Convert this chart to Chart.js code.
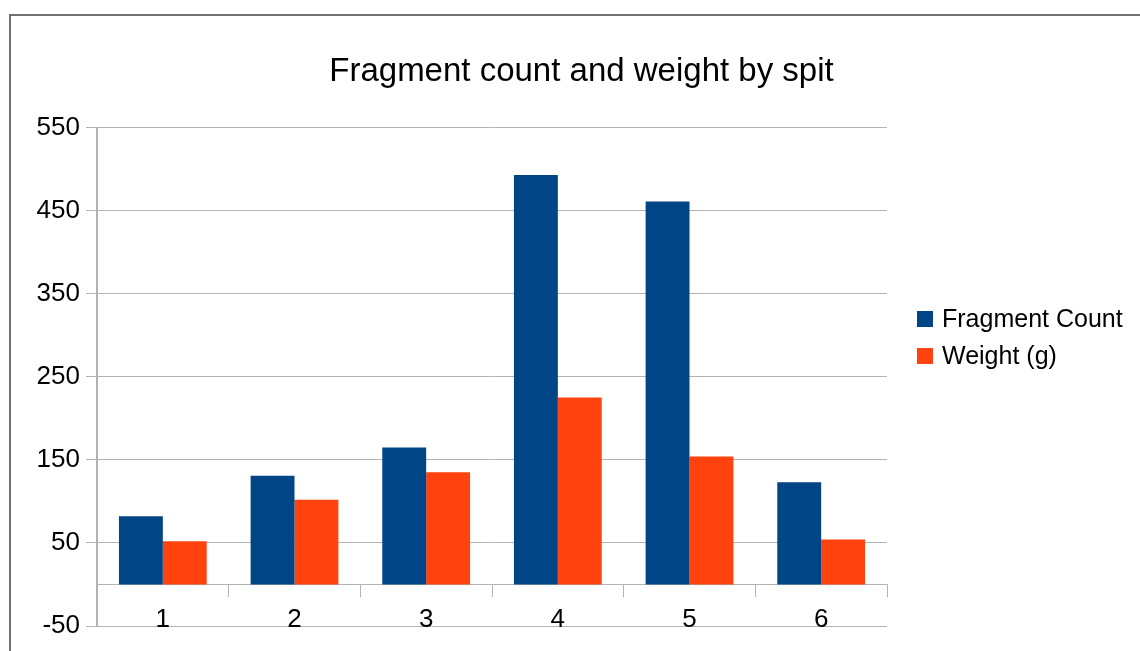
<!DOCTYPE html>
<html lang="en">
<head>
    <meta charset="UTF-8">
    <title>Fragment count and weight by spit</title>
    <script src="https://cdn.jsdelivr.net/npm/chart.js"></script>
    <style>
        html, body {
        margin: 0;
        padding: 0;
        background: #ffffff;
        overflow: hidden;
        width: 1140px;
        height: 651px;
        }

        #frame {
        position: absolute;
        left: 9px;
        top: 14px;
        width: 1200px;
        height: 700px;
        border-left: 2px solid #707070;
        border-top: 2px solid #707070;
        }

        #wrap {
        position: absolute;
        left: 0;
        top: 0;
        width: 1163px;
        height: 651px;
        }

        #legend {
        position: absolute;
        left: 917px;
        top: 300px;
        font-family: "Liberation Sans", Arial, sans-serif;
        font-size: 25px;
        color: #000;
        }

        #legend .row {
        display: flex;
        align-items: center;
        height: 37px;
        }

        #legend .box {
        width: 16px;
        height: 16px;
        margin-right: 9px;
        }
    </style>
</head>
<body>
    <div id="frame"></div>
    <div id="wrap"><canvas id="spitChart"></canvas></div>
    <div id="legend"></div>

    <script>
        const spits = ['1', '2', '3', '4', '5', '6'];
        const fragmentCount = [82, 131, 165, 493, 461, 123];
        const weightG = [52, 102, 135, 225, 154, 54];
        const seriesNames = ['Fragment Count', 'Weight (g)'];
        const seriesColors = ['#004586', '#ff420e'];
        const yTicks = [-50, 50, 150, 250, 350, 450, 550];

        const font = "'Liberation Sans', Arial, sans-serif";
        const gridCol = '#b3b3b3';

        new Chart(document.getElementById('spitChart'), {
            type: 'bar',
            data: {
            labels: spits,
            datasets: [
                {
                label: seriesNames[0],
                data: fragmentCount,
                backgroundColor: seriesColors[0],
                categoryPercentage: 2 / 3,
                barPercentage: 1
                },
                {
                label: seriesNames[1],
                data: weightG,
                backgroundColor: seriesColors[1],
                categoryPercentage: 2 / 3,
                barPercentage: 1
                }
            ]
            },
            options: {
            responsive: true,
            maintainAspectRatio: false,
            animation: false,
            layout: {
                padding: { left: 0, right: 0, top: 0, bottom: 25 }
            },
            plugins: {
                legend: { display: false },
                tooltip: { enabled: false },
                title: {
                display: true,
                text: 'Fragment count and weight by spit',
                color: '#000',
                font: { family: font, size: 33, weight: 'normal' },
                padding: { top: 52, bottom: 36 }
                }
            },
            scales: {
                x: {
                position: { y: 0 },
                grid: {
                    offset: true,
                    tickLength: 12,
                    color: ctx => (ctx.index === 0 || ctx.index === spits.length) ? gridCol : 'rgba(0,0,0,0)',
                    tickColor: gridCol
                },
                border: { display: true, color: gridCol },
                ticks: {
                    color: '#000',
                    padding: 8,
                    font: { family: font, size: 26 }
                }
                },
                y: {
                min: yTicks[0],
                max: yTicks[yTicks.length - 1],
                afterBuildTicks: s => { s.ticks = yTicks.map(v => ({ value: v })); },
                afterFit: s => { s.width = 97; },
                grid: { color: gridCol, tickLength: 11 },
                border: { display: true, color: gridCol },
                ticks: {
                    color: '#000',
                    padding: 6,
                    font: { family: font, size: 26 }
                }
                },
                // empty right axis, only keeps room for the legend
                side: {
                position: 'right',
                display: true,
                afterFit: s => { s.width = 276; },
                grid: { display: false },
                border: { display: false },
                ticks: { display: false }
                }
            }
            }
        });

        const legend = document.getElementById('legend');
        seriesNames.forEach((name, i) => {
            const row = document.createElement('div');
            row.className = 'row';
            row.innerHTML = '<span class="box" style="background:' + seriesColors[i] + '"></span><span>' + name + '</span>';
            legend.appendChild(row);
        });
    </script>
</body>
</html>
